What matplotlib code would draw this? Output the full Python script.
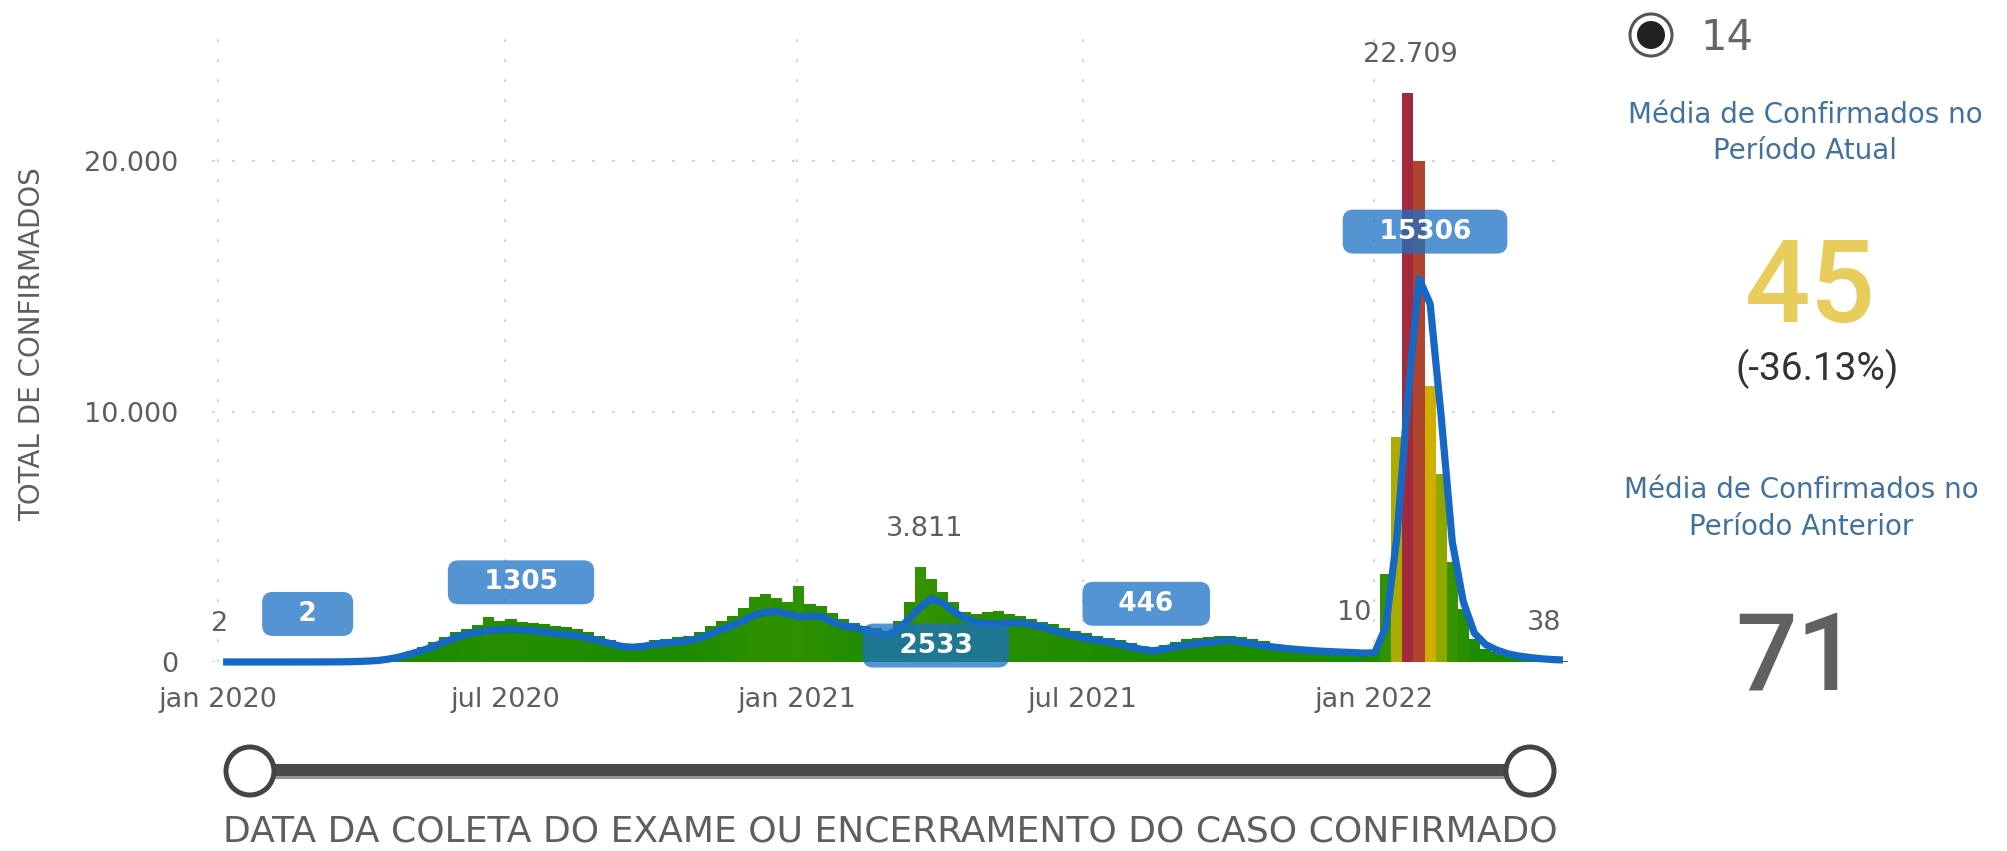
import pandas as pd
import matplotlib
matplotlib.use('Agg')
import matplotlib.pyplot as plt
from matplotlib.colors import LinearSegmentedColormap, Normalize
from matplotlib.patches import Circle

# DATA - weekly values (week starting on each date)
start = '2020-01-01'
cases = [2, 0, 0, 0, 0, 0, 0, 0, 0, 3,
         6, 12, 25, 50, 90, 170, 280, 420, 580, 780,
         980, 1180, 1330, 1480, 1800, 1650, 1700, 1600, 1550, 1500,
         1420, 1380, 1300, 1180, 1020, 880, 720, 680, 760, 860,
         920, 980, 1050, 1200, 1450, 1650, 1850, 2150, 2600, 2700,
         2550, 2400, 3030, 2300, 2250, 1950, 1700, 1550, 1450, 1350,
         1250, 1650, 2400, 3811, 3300, 2800, 2400, 2000, 1900, 2000,
         2050, 1900, 1850, 1700, 1600, 1500, 1350, 1250, 1150, 1050,
         950, 880, 750, 650, 600, 680, 800, 900, 950, 1000,
         1050, 1050, 980, 900, 820, 720, 650, 600, 560, 520,
         500, 480, 450, 430, 480, 3500, 9000, 22709, 20000, 11000,
         7500, 4000, 2100, 900, 520, 400, 280, 200, 160, 120,
         90, 38]
media_movel = [2, 1, 1, 1, 1, 1, 1, 2, 2, 3,
               5, 9, 18, 35, 60, 120, 210, 330, 460, 620,
               800, 970, 1100, 1200, 1260, 1290, 1305, 1290, 1250, 1200,
               1140, 1090, 1030, 950, 850, 730, 620, 590, 630, 700,
               760, 800, 850, 950, 1120, 1290, 1460, 1650, 1880, 1980,
               2010, 1920, 1800, 1830, 1820, 1600, 1450, 1370, 1280, 1150,
               1080, 1300, 1750, 2200, 2533, 2350, 2000, 1750, 1580, 1530,
               1530, 1560, 1560, 1500, 1400, 1250, 1130, 1030, 940, 860,
               790, 700, 600, 500, 446, 520, 610, 680, 730, 780,
               840, 860, 790, 710, 650, 590, 540, 500, 465, 435,
               415, 395, 375, 355, 370, 1400, 5000, 10600, 15306, 14300,
               9800, 4800, 2400, 1150, 700, 480, 330, 240, 180, 130,
               100, 80]

tick_dates = ['2020-01-01', '2020-07-01', '2021-01-01', '2021-07-01', '2022-01-01']
tick_labels = ['jan 2020', 'jul 2020', 'jan 2021', 'jul 2021', 'jan 2022']
ytick_vals = [0, 10000, 20000]
ytick_labels = ['0', '10.000', '20.000']

# labels on bars (week index, text) and on the moving average (week index, text)
bar_labels = [(0, '2'), (63, '3.811'), (102, '10'), (107, '22.709'), (121, '38')]
line_labels = [(8, '2'), (26, '1305'), (64, '2533'), (84, '446'), (108, '15306')]

periodo = '14'
media_atual = '45'
variacao = '(-36.13%)'
media_anterior = '71'

# FIGURE
W, H = 2008, 851
fig = plt.figure(figsize=(W / 100, H / 100), dpi=100)
ax = fig.add_axes([212 / W, (H - 662) / H, (1568 - 212) / W, (662 - 26) / H])

weeks = pd.date_range(start, periods=len(cases), freq='7D')
centers = weeks + pd.Timedelta(hours=84)

cmap = LinearSegmentedColormap.from_list('pbi', [
    (0.0, '#178a00'), (0.2, '#3c9400'), (0.33, '#8fa800'), (0.5, '#d6b000'),
    (0.68, '#cf8420'), (0.85, '#b24d2c'), (1.0, '#a32a3c')])
norm = Normalize(0, max(cases))

ax.bar(weeks, cases, width=7, align='edge', color=cmap(norm(cases)),
       linewidth=0, zorder=2)
ax.plot(centers, media_movel, color='#1569c4', lw=5.2, solid_joinstyle='round',
        solid_capstyle='butt', zorder=3, clip_on=False)

ax.set_xlim(pd.Timestamp('2019-12-28 12:00'), pd.Timestamp('2022-05-03 16:00'))
ax.set_ylim(0, 25390)
ax.set_xticks(pd.to_datetime(tick_dates))
ax.set_xticklabels(tick_labels)
ax.set_yticks(ytick_vals)
ax.set_yticklabels(ytick_labels)
ax.tick_params(axis='both', length=0, labelsize=19.5, colors='#605e5c')
ax.tick_params(axis='x', pad=18)
ax.tick_params(axis='y', pad=24)
for s in ax.spines.values():
    s.set_visible(False)
ax.set_axisbelow(True)
ax.grid(True, color='#d4d4d4', lw=1.5, ls=(0, (1.3, 8.3)))

gray = '#605e5c'
offs_bar = {0: -3, 63: 4, 102: 2, 107: 2, 121: -19}
for i, txt in bar_labels:
    ax.annotate(txt, (centers[i], cases[i]), xytext=(offs_bar[i], 38),
                textcoords='offset pixels', ha='center', va='center',
                fontsize=19.5, color=gray, zorder=5)

offs_line = {8: (-4, 48), 26: (10, 47), 64: (4, -47), 84: (-7, 47), 108: (6, 47)}
for i, txt in line_labels:
    dx, dy = offs_line[i]
    ax.annotate('   ' + txt + '   ', (centers[i], media_movel[i]), xytext=(dx, dy),
                textcoords='offset pixels', ha='center', va='center',
                fontsize=19, color='white', fontweight='bold', zorder=6,
                bbox=dict(boxstyle='round,pad=0.34,rounding_size=0.4',
                          fc='#1c70c3', ec='none', alpha=0.75))

fig.text(32 / W, 1 - 344 / H, 'TOTAL DE CONFIRMADOS', rotation=90,
         ha='center', va='center', fontsize=20, color=gray)

# overlay in pixel coordinates: slider, radio button and cards
ov = fig.add_axes([0, 0, 1, 1])
ov.set_xlim(0, W)
ov.set_ylim(H, 0)
ov.axis('off')
ov.patch.set_alpha(0)

ov.plot([250, 1530], [771, 771], color='#4a4a4a', lw=10.8, solid_capstyle='butt')
ov.plot([250, 1530], [777, 777], color='#9a9a9a', lw=2, solid_capstyle='butt')
for cx in (250, 1530):
    ov.add_patch(Circle((cx, 771), 24, fc='white', ec='#444444', lw=3.6, zorder=5))
ov.text(890, 832, 'DATA DA COLETA DO EXAME OU ENCERRAMENTO DO CASO CONFIRMADO',
        ha='center', va='center', fontsize=26, color=gray)

ov.add_patch(Circle((1651, 35), 21, fc='white', ec='#555555', lw=2.2))
ov.add_patch(Circle((1651, 35), 14, fc='#222222', ec='none'))
ov.text(1700, 38, periodo, ha='left', va='center', fontsize=30, color='#666666')

blue_txt = '#41719c'
ov.text(1805, 115, 'Média de Confirmados no', ha='center', va='center',
        fontsize=20, color=blue_txt)
ov.text(1805, 151, 'Período Atual', ha='center', va='center',
        fontsize=20, color=blue_txt)
ov.text(1810, 322, media_atual, ha='center', va='baseline', fontsize=83,
        family='Roboto', fontweight='medium', color='#e8cc5c')
ov.text(1817, 380, variacao, ha='center', va='baseline', fontsize=28,
        family='Roboto', color='#333333')
ov.text(1801, 490, 'Média de Confirmados no', ha='center', va='center',
        fontsize=20, color=blue_txt)
ov.text(1801, 527, 'Período Anterior', ha='center', va='center',
        fontsize=20, color=blue_txt)
ov.text(1797, 690, media_anterior, ha='center', va='baseline', fontsize=78,
        family='Roboto', fontweight='medium', color='#606060')

fig.savefig('out.png', dpi=100)
